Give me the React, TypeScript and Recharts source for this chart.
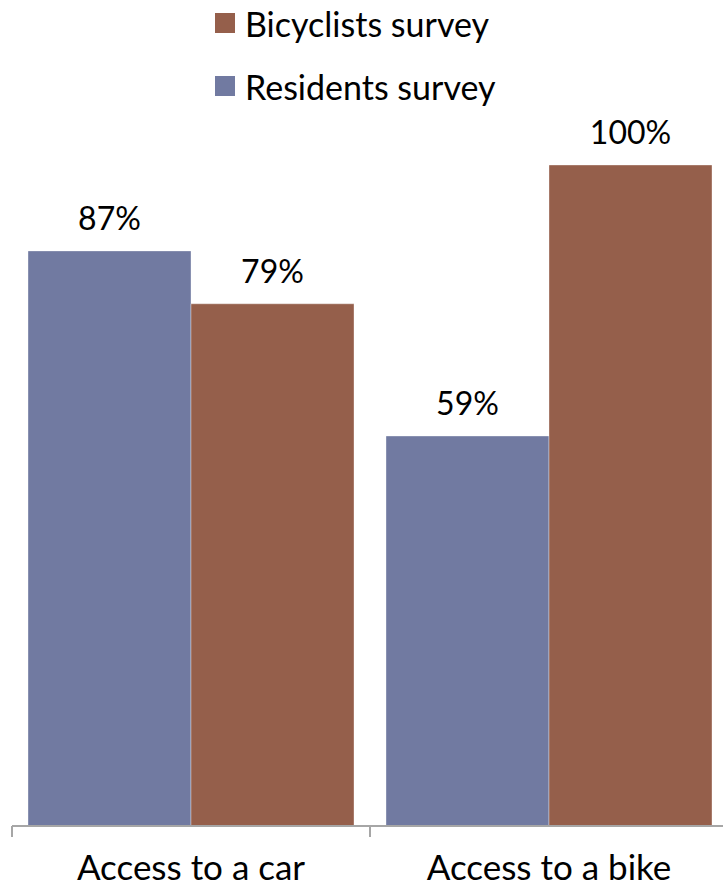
import React from 'react';
import { BarChart, Bar, XAxis, YAxis, Legend, LabelList } from 'recharts';

const categories = ['Access to a car', 'Access to a bike'];
const residentsSurvey = [87, 59];
const bicyclistsSurvey = [79, 100];
const legendOrder = ['Bicyclists survey', 'Residents survey'];

const data = categories.map((name, i) => ({
  name,
  residents: residentsSurvey[i],
  bicyclists: bicyclistsSurvey[i],
}));

const FONT = 'Lato, "Open Sans", sans-serif';
const AXIS_GRAY = '#a6a6a6';

function CategoryTick(props: any) {
  const { x, y, payload } = props;
  const half = payload && payload.offset ? payload.offset : 179;
  return (
    <g>
      <line x1={x - half} x2={x - half} y1={y - 8} y2={y + 3} stroke={AXIS_GRAY} strokeWidth={2} />
      <text x={x} y={y + 46} textAnchor="middle" fontSize={35} fill="#000" fontFamily={FONT}>
        {payload.value}
      </text>
    </g>
  );
}

function StackedLegend({ payload }: any) {
  const items = [...(payload || [])].sort(
    (a: any, b: any) => legendOrder.indexOf(a.value) - legendOrder.indexOf(b.value)
  );
  return (
    <div style={{ position: 'relative', height: 165, width: 723, fontFamily: FONT }}>
      {items.map((entry: any, i: number) => (
        <div
          key={entry.value}
          style={{
            position: 'absolute',
            left: 215,
            top: 4 + i * 63,
            height: 38,
            display: 'flex',
            alignItems: 'center',
            fontSize: 34,
            color: '#000',
            whiteSpace: 'nowrap',
          }}
        >
          <span style={{ width: 20, height: 20, background: entry.color, marginRight: 10, display: 'inline-block' }} />
          {entry.value}
        </div>
      ))}
    </div>
  );
}

export default function App() {
  return (
    <div style={{ position: 'absolute', left: 0, top: 0, width: 723, height: 887, overflow: 'hidden', background: '#fff' }}>
      <BarChart
        width={728}
        height={887}
        data={data}
        margin={{ top: 0, right: 0, left: 12, bottom: 0 }}
        barCategoryGap={16}
        barGap={0}
      >
        <Legend
          verticalAlign="top"
          align="left"
          content={<StackedLegend />}
          wrapperStyle={{ left: 0, top: 0, width: 723 }}
        />
        <XAxis
          dataKey="name"
          axisLine={{ stroke: AXIS_GRAY, strokeWidth: 2 }}
          tickLine={false}
          tick={<CategoryTick />}
          height={61}
          interval={0}
        />
        <YAxis hide domain={[0, 100]} />
        <Bar dataKey="residents" name="Residents survey" fill="#717aa1" stroke="#ffffff" strokeOpacity={0.35} isAnimationActive={false}>
          <LabelList dataKey="residents" position="top" offset={21} formatter={(v: any) => `${v}%`} fontSize={32} fill="#000" fontFamily={FONT} />
        </Bar>
        <Bar dataKey="bicyclists" name="Bicyclists survey" fill="#955f4b" stroke="#ffffff" strokeOpacity={0.35} isAnimationActive={false}>
          <LabelList dataKey="bicyclists" position="top" offset={21} formatter={(v: any) => `${v}%`} fontSize={32} fill="#000" fontFamily={FONT} />
        </Bar>
      </BarChart>
    </div>
  );
}
